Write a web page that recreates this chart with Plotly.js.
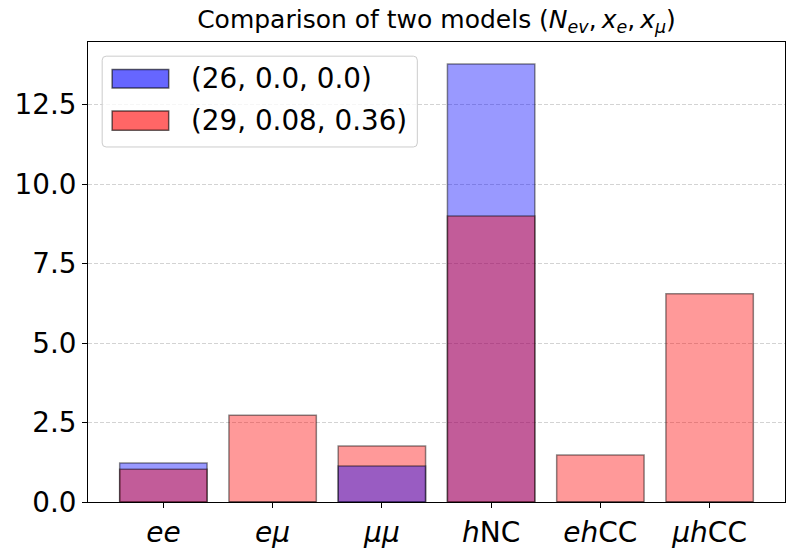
<!DOCTYPE html>
<html>
<head>
<meta charset="utf-8">
<script src="https://cdn.plot.ly/plotly-3.0.1.min.js"></script>
<style>html,body{margin:0;padding:0;background:#fff;}#chart{width:794px;height:557px;}</style>
</head>
<body>
<div id="chart"></div>
<script>
// ---- data ----
const categories = ['<i>ee</i>', '<i>eμ</i>', '<i>μμ</i>', '<i>h</i>NC', '<i>eh</i>CC', '<i>μh</i>CC'];
const seriesNames = ['(26, 0.0, 0.0)', '(29, 0.08, 0.36)'];
const modelA = [1.23, 0.0, 1.13, 13.78, 0.0, 0.0];
const modelB = [1.03, 2.73, 1.76, 9.0, 1.48, 6.55];
const yTicks = [0, 2.5, 5, 7.5, 10, 12.5];

// ---- styling ----
const fills = ['rgba(0,0,255,0.4)', 'rgba(255,0,0,0.4)'];
const legendFills = ['rgba(0,0,255,0.6)', 'rgba(255,0,0,0.6)'];
const edge = 'rgba(0,0,0,0.45)';
const xIdx = categories.map((_, i) => i);

// smaller bar drawn on top in each category
function pick(vals, other, back) {
  return vals.map((v, i) => {
    const isBack = v >= other[i];
    return (isBack === back) ? v : null;
  });
}
const series = [modelA, modelB];
const traces = [];
[true, false].forEach(back => {
  series.forEach((vals, k) => {
    const other = series[1 - k];
    traces.push({
      type: 'bar', x: xIdx, y: pick(vals, other, back),
      marker: {color: fills[k], line: {color: edge, width: 1.5}},
      showlegend: false, hoverinfo: 'skip'
    });
  });
});

// plot area in pixels
const L = 87.5, R = 785.5, T = 41.5, B = 502.5;
const W = 794, H = 557;
const PX = p => (p - L) / (R - L);
const PY = p => (B - p) / (B - T);

function roundRect(x0, y0, x1, y1, r) {
  const rx = r / (R - L), ry = r / (B - T);
  const a = PX(x0), b = PX(x1), top = PY(y0), bot = PY(y1);
  return `M${a + rx},${bot} L${b - rx},${bot} Q${b},${bot} ${b},${bot + ry} ` +
         `L${b},${top - ry} Q${b},${top} ${b - rx},${top} L${a + rx},${top} ` +
         `Q${a},${top} ${a},${top - ry} L${a},${bot + ry} Q${a},${bot} ${a + rx},${bot} Z`;
}

const shapes = [
  {type: 'path', xref: 'paper', yref: 'paper', path: roundRect(101.7, 55.7, 417.3, 146.7, 4),
   fillcolor: 'rgba(255,255,255,0.8)', line: {color: '#cccccc', width: 1}, layer: 'above'}
];
const rows = [[69, 87.7], [110.7, 130]];
rows.forEach((r, k) => {
  shapes.push({type: 'rect', xref: 'paper', yref: 'paper',
    x0: PX(111.7), x1: PX(168.3), y0: PY(r[1]), y1: PY(r[0]),
    fillcolor: legendFills[k], line: {color: 'rgba(0,0,0,0.6)', width: 1.5}, layer: 'above'});
});
const annotations = rows.map((r, k) => ({
  xref: 'paper', yref: 'paper', x: PX(189), y: PY((r[0] + r[1]) / 2),
  xanchor: 'left', yanchor: 'middle', showarrow: false, text: seriesNames[k],
  font: {family: 'DejaVu Sans', size: 27.8, color: '#000'}
}));

const layout = {
  width: W, height: H,
  margin: {l: L, r: W - R, t: T, b: H - B, pad: 0},
  paper_bgcolor: '#fff', plot_bgcolor: '#fff',
  barmode: 'overlay', bargap: 0.2,
  showlegend: false,
  font: {family: 'DejaVu Sans', color: '#000'},
  title: {
    text: 'Comparison of two models (<i>N</i><sub><i>ev</i></sub>,\u2009<i>x</i><sub><i>e</i></sub>,\u2009<i>x</i><sub><i>μ</i></sub>)',
    font: {family: 'DejaVu Sans', size: 25, color: '#000'},
    x: 0.5, xref: 'paper', xanchor: 'center', y: 1 - 19 / H, yanchor: 'middle'
  },
  xaxis: {
    range: [-0.69, 5.69], tickvals: xIdx, ticktext: categories,
    showgrid: false, zeroline: false, showline: true, linecolor: '#000', linewidth: 1, mirror: true,
    ticks: 'outside', ticklen: 5, tickwidth: 1, tickcolor: '#000',
    tickfont: {family: 'DejaVu Sans', size: 28, color: '#000'}
  },
  yaxis: {
    range: [0, 14.47], tickvals: yTicks, tickformat: '.1f',
    showgrid: true, gridcolor: 'rgba(176,176,176,0.7)', griddash: '4px,2px', gridwidth: 0.8,
    zeroline: false, showline: true, linecolor: '#000', linewidth: 1, mirror: true,
    ticks: 'outside', ticklen: 5, tickwidth: 1, tickcolor: '#000',
    tickfont: {family: 'DejaVu Sans', size: 27.8, color: '#000'}
  },
  shapes: shapes,
  annotations: annotations
};

Plotly.newPlot('chart', traces, layout, {displayModeBar: false, staticPlot: true});
</script>
</body>
</html>
